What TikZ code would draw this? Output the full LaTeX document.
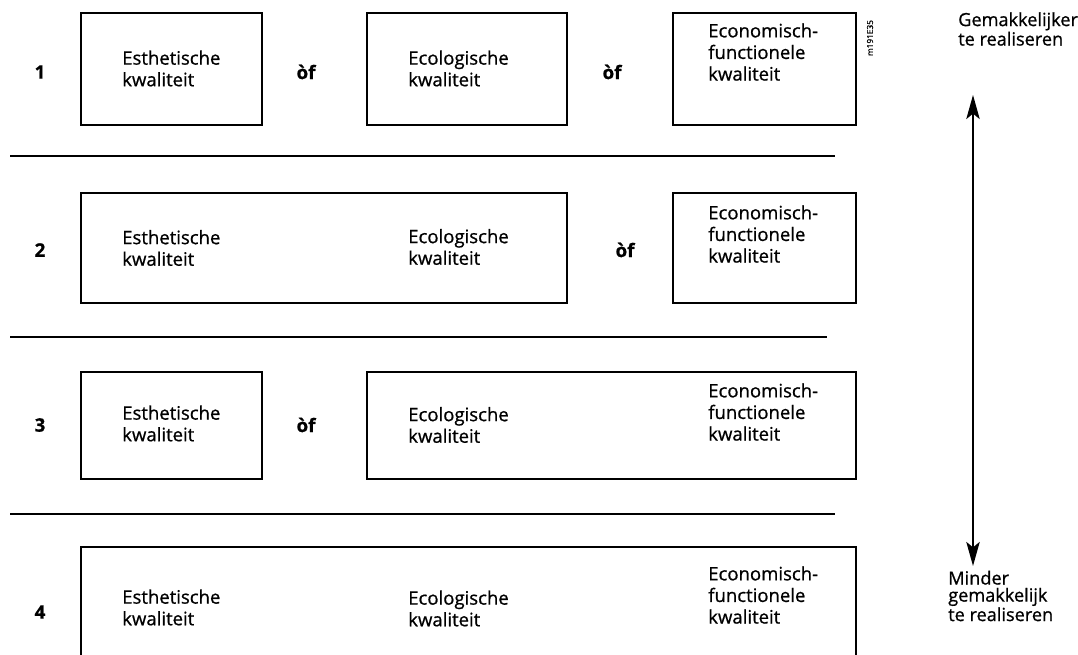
\documentclass[tikz,border=0pt]{standalone}
\usepackage{fontspec}
\setmainfont{Open Sans}[RawFeature={embolden=0.8}]
\usetikzlibrary{fit,arrows.meta}
\begin{document}
\begin{tikzpicture}[x=0.75pt,y=-0.75pt,
  box/.style={draw,line width=1.4pt,inner sep=0pt},
  sep/.style={line width=1.4pt},
  lbl/.style={anchor=west,inner sep=0pt,align=left,font=\fontsize{13.9}{16.2}\selectfont},
  num/.style={inner sep=0pt,font=\bfseries\fontsize{14}{16}\selectfont},
  side/.style={anchor=west,inner sep=0pt,align=left,font=\fontsize{13.6}{12.8}\selectfont},
  ofl/.style={inner sep=0pt,font=\bfseries\fontsize{14}{16}\selectfont}]
\useasboundingbox (0,0) rectangle (1078,655);
\clip (0,0) rectangle (1078,655);
% row 1
\node[num] (n1) at (40,72) {1};
\node[box,fit={(81,13)(262,125)}] (b11) {};
\node[box,fit={(367,13)(567,125)}] (b12) {};
\node[box,fit={(673,13)(856,125)}] (b13) {};
\node[lbl] (t11) at (122,68.5) {Esthetische\\kwaliteit};
\node[lbl] (t12) at (408,68.5) {Ecologische\\kwaliteit};
\node[lbl] (t13) at (708,52) {Economisch-\\functionele\\kwaliteit};
\node[ofl] (o11) at (306,72) {òf};
\node[ofl] (o12) at (612,72) {òf};
\node[font=\fontsize{6.2}{7}\selectfont,rotate=90,inner sep=0pt] (code) at (870,38) {m191E35};
\coordinate (l1a) at (10,156); \coordinate (l1b) at (835,156);
\draw[sep] (l1a) -- (l1b);
% row 2
\node[num] (n2) at (40,250) {2};
\node[box,fit={(81,193)(567,303)}] (b21) {};
\node[box,fit={(673,193)(856,303)}] (b22) {};
\node[lbl] (t21) at (122,248) {Esthetische\\kwaliteit};
\node[lbl] (t22) at (408,247) {Ecologische\\kwaliteit};
\node[lbl] (t23) at (708,234) {Economisch-\\functionele\\kwaliteit};
\node[ofl] (o21) at (625,250) {òf};
\coordinate (l2a) at (10,337); \coordinate (l2b) at (827,337);
\draw[sep] (l2a) -- (l2b);
% row 3
\node[num] (n3) at (40,425) {3};
\node[box,fit={(81,372)(262,479)}] (b31) {};
\node[box,fit={(367,372)(856,479)}] (b32) {};
\node[lbl] (t31) at (122,423.5) {Esthetische\\kwaliteit};
\node[lbl] (t32) at (408,425) {Ecologische\\kwaliteit};
\node[lbl] (t33) at (708,412) {Economisch-\\functionele\\kwaliteit};
\node[ofl] (o31) at (306,425) {òf};
\coordinate (l3a) at (10,514); \coordinate (l3b) at (835,514);
\draw[sep] (l3a) -- (l3b);
% row 4
\node[num] (n4) at (40,612) {4};
\node[box,fit={(81,547)(856,670)}] (b41) {};
\node[lbl] (t41) at (122,607.5) {Esthetische\\kwaliteit};
\node[lbl] (t42) at (408,608.5) {Ecologische\\kwaliteit};
\node[lbl] (t43) at (708,595) {Economisch-\\functionele\\kwaliteit};
% side
\node[side] (top) at (958,29) {Gemakkelijker\\te realiseren};
\node[side] (bot) at (948,596) {Minder\\gemakkelijk\\te realiseren};
\coordinate (atop) at (973,95);
\coordinate (abot) at (973,566);
\draw[line width=1.6pt,{Stealth[length=18pt,width=10pt,inset=4pt]}-{Stealth[length=18pt,width=10pt,inset=4pt]}] (atop) -- (abot);
\end{tikzpicture}
\end{document}
